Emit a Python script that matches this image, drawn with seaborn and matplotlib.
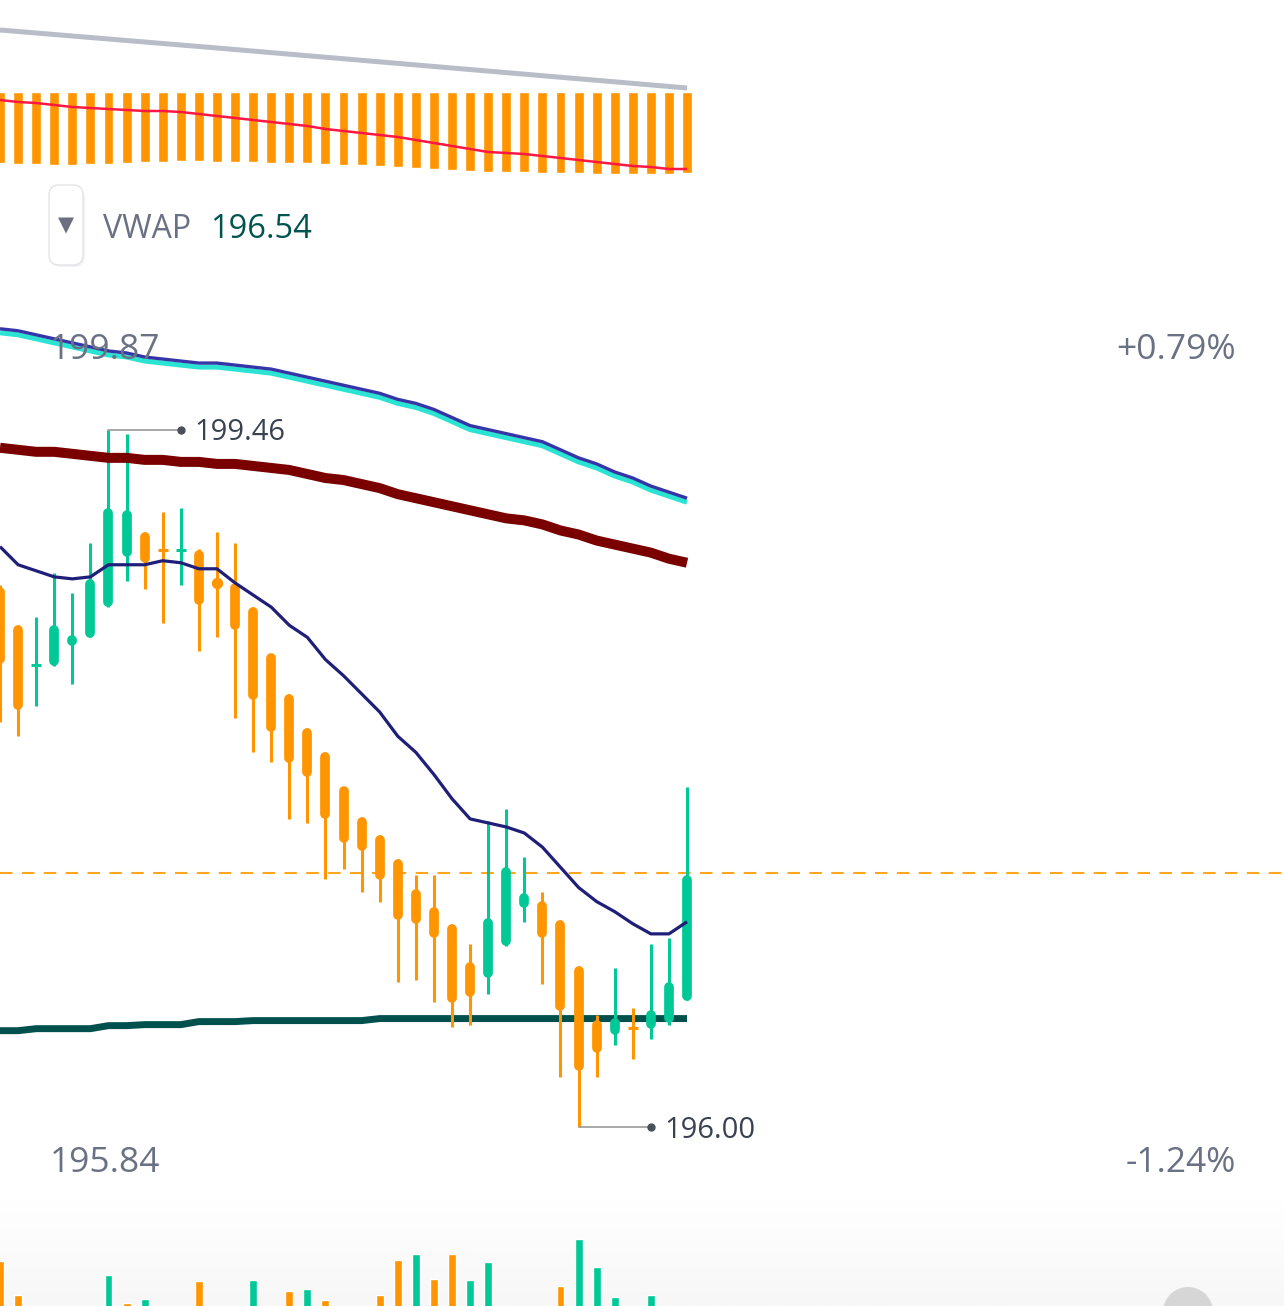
import numpy as np
import pandas as pd
import matplotlib
matplotlib.use("Agg")
import matplotlib.pyplot as plt
import seaborn as sns
from matplotlib.patches import FancyBboxPatch, Circle
from matplotlib.transforms import IdentityTransform, blended_transform_factory, offset_copy
from matplotlib.colors import LinearSegmentedColormap

sns.set_style("white")
plt.rcParams['font.family'] = ['Open Sans', 'DejaVu Sans']

# ---------------- data ----------------
opens = [198.68, 198.49, 198.29, 198.29, 198.39, 198.43, 198.58, 198.83, 198.95, 198.87,
         198.86, 198.86, 198.71, 198.70, 198.58, 198.35, 198.15, 197.98, 197.86, 197.69,
         197.54, 197.45, 197.33, 197.18, 197.09, 197.01, 196.82, 196.74, 196.90, 197.09,
         197.12, 197.03, 196.80, 196.53, 196.46, 196.50, 196.49, 196.52, 196.63]
highs = [198.69, 198.49, 198.53, 198.75, 198.65, 198.90, 199.46, 199.44, 198.95, 199.05,
         199.07, 198.87, 198.95, 198.90, 198.58, 198.35, 198.15, 197.98, 197.86, 197.69,
         197.54, 197.45, 197.33, 197.25, 197.25, 197.01, 196.91, 197.52, 197.58, 197.34,
         197.17, 197.03, 196.80, 196.56, 196.79, 196.59, 196.91, 196.94, 197.69]
lows = [198.01, 197.94, 198.09, 198.29, 198.20, 198.43, 198.58, 198.71, 198.67, 198.50,
        198.69, 198.36, 198.43, 198.03, 197.86, 197.81, 197.53, 197.51, 197.23, 197.28,
        197.17, 197.12, 196.72, 196.73, 196.62, 196.50, 196.51, 196.66, 196.90, 197.02,
        196.71, 196.25, 196.00, 196.25, 196.41, 196.34, 196.44, 196.51, 196.63]
closes = [198.30, 198.07, 198.30, 198.49, 198.44, 198.72, 199.07, 199.06, 198.80, 198.86,
          198.87, 198.59, 198.69, 198.47, 198.12, 197.96, 197.81, 197.74, 197.53, 197.41,
          197.37, 197.23, 197.03, 197.01, 196.94, 196.62, 196.65, 197.04, 197.29, 197.16,
          196.94, 196.58, 196.28, 196.37, 196.54, 196.49, 196.58, 196.72, 197.25]

ma_short = [198.88, 198.79, 198.76, 198.73, 198.72, 198.73, 198.79, 198.79, 198.79, 198.81,
            198.80, 198.77, 198.77, 198.70, 198.64, 198.58, 198.49, 198.43, 198.32, 198.24,
            198.15, 198.06, 197.94, 197.86, 197.75, 197.63, 197.53, 197.51, 197.49, 197.46,
            197.39, 197.29, 197.19, 197.12, 197.07, 197.01, 196.96, 196.96, 197.02]
band_upper = [199.96, 199.95, 199.93, 199.91, 199.89, 199.87, 199.85, 199.84, 199.82, 199.81,
              199.80, 199.79, 199.79, 199.78, 199.77, 199.76, 199.74, 199.72, 199.70, 199.68,
              199.66, 199.64, 199.61, 199.59, 199.56, 199.52, 199.48, 199.46, 199.44, 199.42,
              199.40, 199.36, 199.32, 199.29, 199.25, 199.22, 199.18, 199.15, 199.12]
band_cyan = [199.94, 199.93, 199.91, 199.89, 199.87, 199.85, 199.83, 199.82, 199.80, 199.79,
             199.78, 199.77, 199.77, 199.76, 199.75, 199.74, 199.72, 199.70, 199.68, 199.66,
             199.64, 199.62, 199.59, 199.57, 199.54, 199.50, 199.46, 199.44, 199.42, 199.40,
             199.38, 199.34, 199.30, 199.27, 199.23, 199.20, 199.16, 199.13, 199.10]
ma_long = [199.37, 199.36, 199.35, 199.35, 199.34, 199.33, 199.32, 199.32, 199.31, 199.31,
           199.30, 199.30, 199.29, 199.29, 199.28, 199.27, 199.26, 199.24, 199.22, 199.21,
           199.19, 199.17, 199.14, 199.12, 199.10, 199.08, 199.06, 199.04, 199.02, 199.01,
           198.99, 198.96, 198.94, 198.91, 198.89, 198.87, 198.85, 198.82, 198.80]
vwap = [196.48, 196.48, 196.49, 196.49, 196.49, 196.49, 196.505, 196.505, 196.51, 196.51,
        196.51, 196.525, 196.525, 196.525, 196.53, 196.53, 196.53, 196.53, 196.53, 196.53,
        196.53, 196.54, 196.54, 196.54, 196.54, 196.54, 196.54, 196.54, 196.54, 196.54,
        196.54, 196.54, 196.54, 196.54, 196.54, 196.54, 196.54, 196.54, 196.54]
last_price = 197.26
vwap_label = "196.54"
range_high, range_low = 199.87, 195.84
pct_high, pct_low = "+0.79%", "-1.24%"
hi_mark, lo_mark = 199.46, 196.00

osc_hist = [-0.71, -0.72, -0.72, -0.73, -0.73, -0.72, -0.72, -0.71, -0.70, -0.70,
            -0.69, -0.69, -0.70, -0.70, -0.70, -0.71, -0.71, -0.71, -0.72, -0.73,
            -0.73, -0.74, -0.75, -0.76, -0.77, -0.78, -0.79, -0.80, -0.80, -0.80,
            -0.81, -0.81, -0.81, -0.82, -0.82, -0.82, -0.82, -0.82, -0.81]
osc_signal = [-0.08, -0.10, -0.11, -0.13, -0.15, -0.16, -0.17, -0.18, -0.19, -0.19,
              -0.20, -0.22, -0.24, -0.26, -0.28, -0.30, -0.32, -0.34, -0.37, -0.39,
              -0.41, -0.43, -0.45, -0.48, -0.51, -0.54, -0.57, -0.60, -0.61, -0.62,
              -0.64, -0.66, -0.68, -0.70, -0.72, -0.74, -0.75, -0.77, -0.77]
osc_slow_x = [0, 12, 25, 38]
osc_slow = [0.62, 0.44, 0.24, 0.04]

volumes = [59, 25, 10, 12, 9, 11, 45, 17, 21, 8,
           6, 39, 10, 12, 40, 12, 29, 31, 20, 12,
           10, 25, 60, 66, 41, 66, 40, 58, 12, 10,
           8, 34, 81, 53, 23, 9, 25, 10, 13]
vol_dir = ['d', 'd', 'u', 'u', 'u', 'u', 'u', 'd', 'u', 'd',
           'u', 'd', 'd', 'd', 'u', 'd', 'd', 'u', 'd', 'd',
           'd', 'd', 'd', 'u', 'd', 'd', 'u', 'u', 'u', 'u',
           'd', 'd', 'u', 'u', 'u', 'd', 'u', 'u', 'u']

# ---------------- style ----------------
GREEN = "#00C896"
ORANGE = "#FF9500"
NAVY = "#1F1F7A"
TEXT_GRAY = "#6B7184"

W, H = 1284, 1306
STEP = 18.08            # px per candle slot
XMAX = W / STEP
YTOP, YBOT = 201.590, 195.115

fig = plt.figure(figsize=(W / 100, H / 100), dpi=100)
fig.patch.set_facecolor("white")

idx = np.arange(len(opens))
df = pd.DataFrame({"i": idx, "open": opens, "high": highs, "low": lows, "close": closes,
                   "ma_short": ma_short, "band_upper": band_upper, "band_cyan": band_cyan,
                   "ma_long": ma_long, "vwap": vwap})

LINE_KW = dict(estimator=None, legend=False, solid_joinstyle="round", solid_capstyle="butt")

# ---------------- main price axes ----------------
ax = fig.add_axes([0, 0, 1, 1])
ax.set_xlim(0, XMAX)
ax.set_ylim(YBOT, YTOP)
ax.axis("off")
ax.patch.set_alpha(0)

px_per_price = H / (YTOP - YBOT)
shrink = 4.8 / px_per_price

ax.axhline(last_price, color="#FFA51F", lw=1.5, ls=(0, (6, 4.5)), zorder=1)

sns.lineplot(data=df, x="i", y="vwap", ax=ax, color="#00504E", linewidth=5, zorder=2, **LINE_KW)

for i, o, h, l, c in zip(idx, opens, highs, lows, closes):
    col = GREEN if c >= o else ORANGE
    ax.vlines(i, l, h, color=col, lw=2.2, zorder=3)
    top, bot = max(o, c), min(o, c)
    if top - bot < 0.015:
        ax.hlines((o + c) / 2, i - 0.28, i + 0.28, color=col, lw=2.2, zorder=3)
    elif top - bot < 2 * shrink:
        ax.plot([i], [(o + c) / 2], marker="o", ms=7.2, color=col, mec=col, zorder=3)
    else:
        ax.plot([i, i], [bot + shrink, top - shrink], color=col, lw=7.0,
                solid_capstyle="round", zorder=3)

sns.lineplot(data=df, x="i", y="ma_short", ax=ax, color=NAVY, linewidth=2.3, zorder=4, **LINE_KW)
sns.lineplot(data=df, x="i", y="ma_long", ax=ax, color="#7A0000", linewidth=7.2, zorder=4, **LINE_KW)
sns.lineplot(data=df, x="i", y="band_cyan", ax=ax, color="#2BE3D3", linewidth=3.6, zorder=4, **LINE_KW)
sns.lineplot(data=df, x="i", y="band_upper", ax=ax, color="#3535A8", linewidth=2.4, zorder=4, **LINE_KW)

# high / low markers
hi_i = int(np.argmax(highs))
lo_i = int(np.argmin(lows))
hx_end = 181 / STEP
lx_end = 651 / STEP
txt_down = offset_copy(ax.transData, fig=fig, x=0, y=-3, units="dots")
ax.plot([hi_i, hx_end], [hi_mark, hi_mark], color="#9A9A9A", lw=1.2, zorder=5)
ax.plot([hx_end], [hi_mark], marker="o", ms=5, color="#4A4F5A", zorder=5)
ax.text(hx_end + 0.75, hi_mark, f"{hi_mark:.2f}", fontsize=21, color="#3A4150",
        va="center", ha="left", zorder=6, transform=txt_down)
ax.plot([lo_i, lx_end], [lo_mark, lo_mark], color="#9A9A9A", lw=1.2, zorder=5)
ax.plot([lx_end], [lo_mark], marker="o", ms=5, color="#4A4F5A", zorder=5)
ax.text(lx_end + 0.75, lo_mark, f"{lo_mark:.2f}", fontsize=21, color="#3A4150",
        va="center", ha="left", zorder=6, transform=txt_down)

# range labels
tr = offset_copy(blended_transform_factory(ax.transAxes, ax.transData), fig=fig,
                 x=0, y=-3, units="dots")
ax.text(50 / W, range_high, f"{range_high:.2f}", transform=tr, fontsize=25.5,
        color=TEXT_GRAY, va="center", ha="left", zorder=6)
ax.text(50 / W, range_low, f"{range_low:.2f}", transform=tr, fontsize=25.5,
        color=TEXT_GRAY, va="center", ha="left", zorder=6)
ax.text(1236 / W, range_high, pct_high, transform=tr, fontsize=25.5,
        color=TEXT_GRAY, va="center", ha="right", zorder=6)
ax.text(1236 / W, range_low, pct_low, transform=tr, fontsize=25.5,
        color=TEXT_GRAY, va="center", ha="right", zorder=6)

# ---------------- top oscillator panel ----------------
axt = fig.add_axes([0, 1 - 200 / H, 1, 200 / H])
axt.set_xlim(0, XMAX)
axt.set_ylim(-1.08, 0.92)
axt.axis("off")
axt.patch.set_alpha(0)
axt.bar(idx, osc_hist, width=0.55, color=ORANGE, zorder=2)
sns.lineplot(x=idx, y=osc_signal, ax=axt, color="#FF1744", linewidth=1.8, zorder=3, **LINE_KW)
sns.lineplot(x=osc_slow_x, y=osc_slow, ax=axt, color="#B9BDC8", linewidth=3.6, zorder=3, **LINE_KW)

# ---------------- volume panel ----------------
axv = fig.add_axes([0, 0, 1, 106 / H])
axv.set_xlim(0, XMAX)
axv.set_ylim(14, 120)
axv.axis("off")
grad = np.linspace(0, 1, 100).reshape(-1, 1)
cm = LinearSegmentedColormap.from_list("bg", ["#FFFFFF", "#F7F7F7"])
axv.imshow(grad, extent=[0, XMAX, 14, 120], aspect="auto", cmap=cm, origin="upper", zorder=0)
axv.set_xlim(0, XMAX)
axv.set_ylim(14, 120)
vcols = [GREEN if d == 'u' else ORANGE for d in vol_dir]
axv.bar(idx, volumes, width=0.44, color=vcols, zorder=2)

# ---------------- VWAP legend chip ----------------
shadow = FancyBboxPatch((50, H - 267), 35, 80, boxstyle="round,pad=0,rounding_size=11",
                        transform=IdentityTransform(), facecolor="#000000", alpha=0.05,
                        edgecolor="none", zorder=10)
chip = FancyBboxPatch((49, H - 265), 34, 80, boxstyle="round,pad=0,rounding_size=10",
                      transform=IdentityTransform(), facecolor="white",
                      edgecolor="#E3E4E8", lw=1.0, zorder=11)
fig.add_artist(shadow)
fig.add_artist(chip)
fig.text(66 / W, 1 - 225 / H, "▼", fontsize=15, color="#6B6F80", ha="center", va="center",
         family="DejaVu Sans", zorder=12)
fig.text(103 / W, 1 - 230 / H, "VWAP", fontsize=23, color=TEXT_GRAY, ha="left", va="center",
         zorder=12)
fig.text(210 / W, 1 - 230 / H, vwap_label, fontsize=23.5, color="#00544F", ha="left", va="center",
         zorder=12)

# corner button (partially visible)
fig.add_artist(Circle((1188, -6), 25, transform=IdentityTransform(), facecolor="#D6D6D6",
                      edgecolor="none", zorder=12))

fig.savefig("out.png", dpi=100, facecolor="white")
